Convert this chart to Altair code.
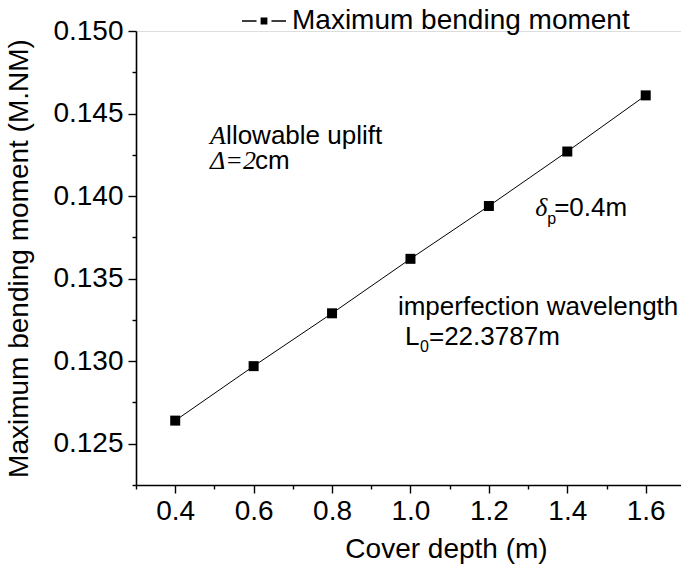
import altair as alt
import pandas as pd

# Series values
cover_depth = [0.4, 0.6, 0.8, 1.0, 1.2, 1.4, 1.6]
max_moment = [0.1264, 0.1297, 0.1329, 0.1362, 0.1394, 0.1427, 0.1461]
series_name = "Maximum bending moment"

# Axis ticks
x_major = [0.4, 0.6, 0.8, 1.0, 1.2, 1.4, 1.6]
x_minor = [0.3, 0.5, 0.7, 0.9, 1.1, 1.3, 1.5]
y_major = [0.125, 0.130, 0.135, 0.140, 0.145, 0.150]
y_minor = [0.1225, 0.1275, 0.1325, 0.1375, 0.1425, 0.1475]

# Annotation anchor positions (data units)
note_x = [0.489, 0.489, 1.318, 0.968, 0.986]
note_y = [0.14315, 0.14165, 0.1388, 0.1328, 0.1310]

SANS = "Liberation Sans"
SERIF = "Liberation Serif"
FS = 28
NFS = 26

df = pd.DataFrame({"depth": cover_depth, "moment": max_moment,
                   "series": [series_name] * len(cover_depth)})

xs = alt.Scale(domain=[0.3, 1.69], nice=False, zero=False)
ys = alt.Scale(domain=[0.1225, 0.150], nice=False, zero=False)

axis_common = dict(domainColor="black", domainWidth=1.6, tickColor="black",
                   tickWidth=1.4, labelColor="black", labelFont=SANS,
                   labelFontSize=FS, titleFont=SANS, titleFontSize=FS,
                   titleFontWeight="normal", titleColor="black", grid=False)

x_axis = alt.Axis(values=x_major, format=".1f", title="Cover depth (m)",
                  orient="bottom", tickSize=8, labelPadding=4,
                  titlePadding=10, titleX=310, **axis_common)
y_axis = alt.Axis(values=y_major, format=".3f",
                  title="Maximum bending moment (M.NM)", orient="left",
                  tickSize=8, labelPadding=5, titlePadding=19, **axis_common)

x_axis_minor = alt.Axis(values=x_minor, labels=False, domain=False, title=None,
                        orient="bottom", tickSize=4, tickColor="black",
                        tickWidth=1.4, grid=False)
y_axis_minor = alt.Axis(values=y_minor, labels=False, domain=False, title=None,
                        orient="left", tickSize=4, tickColor="black",
                        tickWidth=1.4, grid=False)

base = alt.Chart(df)

minor = base.mark_point(opacity=0).encode(
    x=alt.X("depth:Q", scale=xs, axis=x_axis_minor),
    y=alt.Y("moment:Q", scale=ys, axis=y_axis_minor),
)

line = base.mark_line(color="black", strokeWidth=1).encode(
    x=alt.X("depth:Q", scale=xs, axis=x_axis),
    y=alt.Y("moment:Q", scale=ys, axis=y_axis),
)

# Legend glyph: short line, filled square, short line
legend_symbol = ("M-1,0L-0.34,0M0.34,0L1,0"
                 "M-0.12,-0.12L0.12,-0.12L0.12,0.12L-0.12,0.12Z")

points = base.mark_point(shape="square", filled=True, size=100, opacity=1).encode(
    x=alt.X("depth:Q", scale=xs, axis=None),
    y=alt.Y("moment:Q", scale=ys, axis=None),
    color=alt.Color("series:N", scale=alt.Scale(range=["black"]),
                    legend=alt.Legend(title=None, orient="none", legendX=105,
                                      legendY=-33, padding=0,
                                      symbolType=legend_symbol,
                                      symbolSize=1936, symbolStrokeWidth=1.5,
                                      symbolFillColor="black",
                                      symbolStrokeColor="black",
                                      labelFont=SANS, labelFontSize=FS,
                                      labelColor="black", labelOffset=5,
                                      labelLimit=0)),
)


def note(x, y, text, font=SANS, size=NFS, italic=False, dx=0, dy=0):
    d = pd.DataFrame({"x": [x], "y": [y], "t": [text]})
    return alt.Chart(d).mark_text(
        align="left", baseline="alphabetic", font=font, fontSize=size,
        fontStyle="italic" if italic else "normal", color="black",
        dx=dx, dy=dy,
    ).encode(
        x=alt.X("x:Q", scale=xs, axis=None),
        y=alt.Y("y:Q", scale=ys, axis=None),
        text="t:N",
    )


notes = [
    note(note_x[0], note_y[0], "A", font=SERIF, italic=True),
    note(note_x[0], note_y[0], "llowable uplift", dx=16),
    note(note_x[1], note_y[1], "Δ=2", font=SERIF, italic=True),
    note(note_x[1], note_y[1], "cm", dx=45),
    note(note_x[2], note_y[2], "δ", font=SERIF, italic=True),
    note(note_x[2], note_y[2], "p", size=16, dx=12, dy=8),
    note(note_x[2], note_y[2], "=0.4m", dx=19),
    note(note_x[3], note_y[3], "imperfection wavelength"),
    note(note_x[4], note_y[4], "L"),
    note(note_x[4], note_y[4], "0", size=16, dx=15, dy=7),
    note(note_x[4], note_y[4], "=22.3787m", dx=24),
]

chart = alt.layer(minor, line, points, *notes).resolve_axis(
    x="independent", y="independent"
).properties(
    width=545, height=454,
    padding={"left": 136, "top": 31, "right": 0, "bottom": 93},
    autosize="none",
).configure_view(stroke=None).configure(background="white")

chart.save("out.html", embed_options={"renderer": "svg", "actions": False})
